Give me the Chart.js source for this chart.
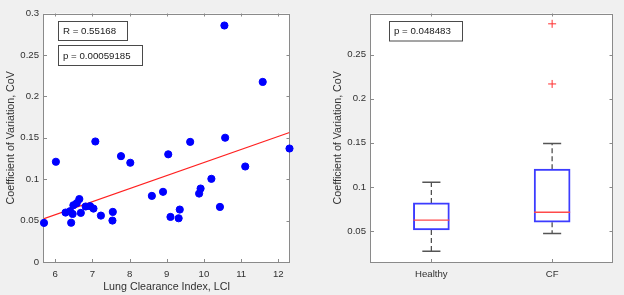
<!DOCTYPE html>
<html>
<head>
<meta charset="utf-8">
<script src="https://cdn.jsdelivr.net/npm/chart.js@4/dist/chart.umd.min.js"></script>
<style>
  html, body { margin:0; padding:0; background:#f0f0f0; }
  body { width:624px; height:295px; position:relative; overflow:hidden; }
  canvas { position:absolute; top:0; }
  #c1 { left:0; }
  #c2 { left:312px; }
</style>
</head>
<body>
<canvas id="c1" width="312" height="295"></canvas>
<canvas id="c2" width="312" height="295"></canvas>
<script>
// ---------- Data: scatter (LCI vs CoV) ----------
const lciValues = [5.70, 6.02, 6.28, 6.40, 6.43, 6.47, 6.49, 6.58, 6.65, 6.69, 6.82, 6.94, 7.03, 7.08, 7.23,
                   7.54, 7.55, 7.77, 8.02, 8.60, 8.90, 9.04, 9.10, 9.32, 9.35, 9.63, 9.87, 9.91, 10.20, 10.43,
                   10.55, 10.57, 11.11, 11.58, 12.30];
const covValues = [0.0472, 0.1210, 0.0597, 0.0613, 0.0474, 0.0580, 0.0685, 0.0710, 0.0760, 0.0593, 0.0670, 0.0674, 0.0645, 0.1455, 0.0560,
                   0.0500, 0.0605, 0.1278, 0.1198, 0.0798, 0.0847, 0.1300, 0.0544, 0.0528, 0.0633, 0.1450, 0.0826, 0.0887, 0.1004, 0.0665,
                   0.2855, 0.1500, 0.1153, 0.2174, 0.1370];
// regression line endpoints
const fitLci = [5.70, 12.30];
const fitCov = [0.0524, 0.1564];
const scatterXTicks = [6, 7, 8, 9, 10, 11, 12];
const scatterYTicks = [0, 0.05, 0.1, 0.15, 0.2, 0.25, 0.3];
const scatterText = ["R = 0.55168", "p = 0.00059185"];

// ---------- Data: box plot ----------
const groups = ["Healthy", "CF"];
const lowerWhisker = [0.0270, 0.0470];
const q1Values = [0.0511, 0.0599];
const medianValues = [0.0622, 0.0712];
const q3Values = [0.0818, 0.1201];
const upperWhisker = [0.1053, 0.1492];
const outlierGroup = [2, 2];
const outlierValues = [0.2849, 0.2167];
const boxYTicks = [0.05, 0.1, 0.15, 0.2, 0.25];
const boxText = ["p = 0.048483"];

// ---------- styling ----------
const FONT = "'Liberation Sans', Arial, Helvetica, sans-serif";
const TXT = '#303030';
const AXIS = '#8a8a8a';

const framePlugin = {
  id: 'frame',
  beforeDraw(chart) {
    const a = chart.chartArea, c = chart.ctx;
    c.save();
    c.fillStyle = '#ffffff';
    c.fillRect(a.left, a.top, a.right - a.left, a.bottom - a.top);
    c.restore();
  },
  beforeDatasetsDraw(chart) {
    const a = chart.chartArea, c = chart.ctx;
    c.save();
    c.strokeStyle = AXIS;
    c.lineWidth = 1;
    c.strokeRect(Math.round(a.left) - 0.5, Math.round(a.top) + 0.5,
                 Math.round(a.right) - Math.round(a.left), Math.round(a.bottom) - Math.round(a.top));
    const xs = chart.scales.x, ys = chart.scales.y, L = 3;
    c.beginPath();
    xs.ticks.forEach((t, i) => {
      const px = Math.round(xs.getPixelForTick(i)) + 0.5;
      c.moveTo(px, a.bottom); c.lineTo(px, a.bottom - L);
      c.moveTo(px, a.top); c.lineTo(px, a.top + L);
    });
    ys.ticks.forEach((t, i) => {
      const py = Math.round(ys.getPixelForTick(i)) + 0.5;
      c.moveTo(a.left, py); c.lineTo(a.left + L, py);
      c.moveTo(a.right, py); c.lineTo(a.right - L, py);
    });
    c.stroke();
    c.restore();
  },
  afterDraw(chart, args, opts) {
    const c = chart.ctx;
    (opts.boxes || []).forEach(b => {
      c.save();
      c.fillStyle = '#ffffff';
      c.fillRect(b.x, b.y, b.w, b.h);
      c.strokeStyle = '#4a4a4a';
      c.lineWidth = 1;
      c.strokeRect(b.x + 0.5, b.y + 0.5, b.w, b.h);
      c.fillStyle = '#1a1a1a';
      c.font = '9.7px ' + FONT;
      c.textBaseline = 'middle';
      c.textAlign = 'left';
      c.fillText(b.text, b.x + 5, b.y + b.h / 2 + 1);
      c.restore();
    });
  }
};

function fixTicks(arr) {
  return scale => { scale.ticks = arr.map(v => ({ value: v })); };
}

// ---------- Left chart: scatter ----------
new Chart(document.getElementById('c1'), {
  type: 'scatter',
  data: {
    datasets: [
      {
        type: 'scatter',
        data: lciValues.map((x, i) => ({ x: x, y: covValues[i] })),
        backgroundColor: '#0000ff',
        borderColor: '#0000ff',
        pointRadius: 3.6,
        pointHoverRadius: 3.6,
        clip: false,
        order: 1
      },
      {
        type: 'line',
        data: fitLci.map((x, i) => ({ x: x, y: fitCov[i] })),
        borderColor: '#ff2020',
        borderWidth: 1.2,
        pointRadius: 0,
        showLine: true,
        tension: 0,
        order: 2
      }
    ]
  },
  options: {
    responsive: false,
    animation: false,
    events: [],
    layout: { padding: { left: 0, top: 13.5, right: 22.5, bottom: 0 } },
    plugins: {
      legend: { display: false },
      tooltip: { enabled: false },
      frame: {
        boxes: [
          { x: 58, y: 21, w: 69, h: 19, text: scatterText[0] },
          { x: 58, y: 45, w: 84, h: 20, text: scatterText[1] }
        ]
      }
    },
    scales: {
      x: {
        type: 'linear',
        min: 5.7, max: 12.3,
        afterBuildTicks: fixTicks(scatterXTicks),
        afterFit: s => { s.height = 33; },
        grid: { display: false, drawTicks: false },
        border: { display: false },
        ticks: { color: TXT, font: { family: FONT, size: 9.6 }, padding: 6.5, maxRotation: 0, autoSkip: false },
        title: { display: true, text: 'Lung Clearance Index, LCI', color: TXT,
                 font: { family: FONT, size: 10.7 }, padding: { top: 0, bottom: 1.5 } }
      },
      y: {
        type: 'linear',
        min: 0, max: 0.3,
        afterBuildTicks: fixTicks(scatterYTicks),
        afterFit: s => { s.width = 44; },
        grid: { display: false, drawTicks: false },
        border: { display: false },
        ticks: { color: TXT, font: { family: FONT, size: 9.6 }, padding: 5, autoSkip: false,
                 callback: v => String(+v.toFixed(2)) },
        title: { display: true, text: 'Coefficient of Variation, CoV', color: TXT,
                 font: { family: FONT, size: 10.7 }, padding: { top: 4.5, bottom: 0 } }
      }
    }
  },
  plugins: [framePlugin]
});

// ---------- Right chart: box plot ----------
const boxDatasets = [];
// boxes (floating bars Q1..Q3)
boxDatasets.push({
  type: 'bar',
  data: groups.map((g, i) => ({ x: i + 1, y: [q1Values[i], q3Values[i]] })),
  backgroundColor: 'rgba(0,0,0,0)',
  borderColor: '#3c3cff',
  borderWidth: 1.3,
  borderSkipped: false,
  barThickness: 36,
  order: 1
});
const BOX_HALF = 0.149, CAP_HALF = 0.075;
groups.forEach((g, i) => {
  const gx = i + 1;
  // whiskers (dashed)
  boxDatasets.push({
    type: 'line',
    data: [{ x: gx, y: q3Values[i] }, { x: gx, y: upperWhisker[i] }],
    borderColor: '#505050', borderWidth: 1.3, borderDash: [5, 3], pointRadius: 0, tension: 0, order: 3
  });
  boxDatasets.push({
    type: 'line',
    data: [{ x: gx, y: q1Values[i] }, { x: gx, y: lowerWhisker[i] }],
    borderColor: '#505050', borderWidth: 1.3, borderDash: [5, 3], pointRadius: 0, tension: 0, order: 3
  });
  // caps
  [upperWhisker[i], lowerWhisker[i]].forEach(v => {
    boxDatasets.push({
      type: 'line',
      data: [{ x: gx - CAP_HALF, y: v }, { x: gx + CAP_HALF, y: v }],
      borderColor: '#555555', borderWidth: 1.5, pointRadius: 0, tension: 0, order: 3
    });
  });
  // median
  boxDatasets.push({
    type: 'line',
    data: [{ x: gx - BOX_HALF, y: medianValues[i] }, { x: gx + BOX_HALF, y: medianValues[i] }],
    borderColor: '#ff4a4a', borderWidth: 1.3, pointRadius: 0, tension: 0, order: 0
  });
});
// outliers
boxDatasets.push({
  type: 'scatter',
  data: outlierValues.map((v, i) => ({ x: outlierGroup[i], y: v })),
  pointStyle: 'cross',
  pointRadius: 4,
  borderColor: '#ff3030',
  borderWidth: 1,
  backgroundColor: '#ff3030',
  order: 0
});

new Chart(document.getElementById('c2'), {
  type: 'bar',
  data: { datasets: boxDatasets },
  options: {
    responsive: false,
    animation: false,
    events: [],
    layout: { padding: { left: 0, top: 13.5, right: 11.5, bottom: 0 } },
    plugins: {
      legend: { display: false },
      tooltip: { enabled: false },
      frame: {
        boxes: [ { x: 77, y: 21, w: 73, h: 19.5, text: boxText[0] } ]
      }
    },
    scales: {
      x: {
        type: 'linear',
        offset: false,
        min: 0.5, max: 2.5,
        afterBuildTicks: fixTicks([1, 2]),
        afterFit: s => { s.height = 33; },
        grid: { display: false, drawTicks: false, offset: false },
        border: { display: false },
        ticks: { color: TXT, font: { family: FONT, size: 9.6 }, padding: 6.5, maxRotation: 0, autoSkip: false,
                 callback: v => groups[Math.round(v) - 1] }
      },
      y: {
        type: 'linear',
        beginAtZero: false,
        min: 0.0148, max: 0.2966,
        afterBuildTicks: fixTicks(boxYTicks),
        afterFit: s => { s.width = 59; },
        grid: { display: false, drawTicks: false },
        border: { display: false },
        ticks: { color: TXT, font: { family: FONT, size: 9.6 }, padding: 5, autoSkip: false,
                 callback: v => String(+v.toFixed(2)) },
        title: { display: true, text: 'Coefficient of Variation, CoV', color: TXT,
                 font: { family: FONT, size: 10.7 }, padding: { top: 19.5, bottom: 0 } }
      }
    }
  },
  plugins: [framePlugin]
});
</script>
</body>
</html>
